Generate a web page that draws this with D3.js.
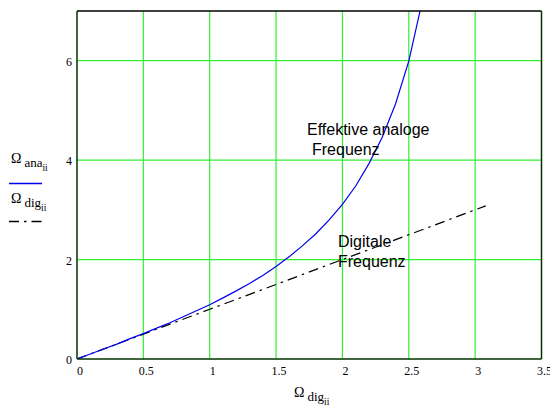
<!DOCTYPE html>
<html><head><meta charset="utf-8">
<script src="https://cdn.jsdelivr.net/npm/d3@7"></script>
<style>body{margin:0;background:#fff}svg{display:block}</style>
</head><body>
<svg id="c" width="550" height="406"></svg>
<script>
const xTicks = [0, 0.5, 1, 1.5, 2, 2.5, 3, 3.5];
const xTickLabels = ["0", "0.5", "1", "1.5", "2", "2.5", "3", "3.5"];
const yTicks = [0, 2, 4, 6];
const yTickLabels = ["0", "2", "4", "6"];
const anaX = [0,0.1,0.2,0.3,0.4,0.5,0.6,0.7,0.8,0.9,1.0,1.1,1.2,1.3,1.4,1.5,1.6,1.7,1.8,1.9,2.0,2.1,2.2,2.3,2.4,2.5,2.6];
const anaY = [0,0.10,0.20,0.30,0.41,0.51,0.62,0.73,0.85,0.97,1.09,1.23,1.37,1.52,1.68,1.86,2.06,2.28,2.52,2.80,3.11,3.48,3.93,4.46,5.13,5.99,7.18];
const digX = [0, 0.5, 1.0, 1.5, 2.0, 2.5, 3.08];
const digY = [0, 0.5, 1.0, 1.5, 2.0, 2.5, 3.08];

const svg = d3.select("#c");
const L = 77, R = 541.5, T = 11, B = 359;
const x = d3.scaleLinear().domain([0, 3.5]).range([L, R]);
const y = d3.scaleLinear().domain([0, 7]).range([B, T]);

// grid
const g = svg.append("g");
g.selectAll("line.gx").data(xTicks.filter(d => d > 0 && d < 3.5)).enter().append("line")
  .attr("x1", d => x(d)).attr("x2", d => x(d)).attr("y1", T).attr("y2", B)
  .attr("stroke", "#33ee33").attr("stroke-width", 1.2);
g.selectAll("line.gy").data(yTicks.filter(d => d > 0)).enter().append("line")
  .attr("x1", L).attr("x2", R).attr("y1", d => y(d)).attr("y2", d => y(d))
  .attr("stroke", "#33ee33").attr("stroke-width", 1.2);

// clip
svg.append("clipPath").attr("id", "clip").append("rect")
  .attr("x", L).attr("y", T).attr("width", R - L).attr("height", B - T);

const line = d3.line().x(d => x(d[0])).y(d => y(d[1]));
svg.append("path").attr("clip-path", "url(#clip)")
  .datum(digX.map((v, i) => [v, digY[i]]))
  .attr("d", line).attr("fill", "none").attr("stroke", "#000").attr("stroke-width", 1.2)
  .attr("stroke-dasharray", "10,5,2.5,5");
svg.append("path").attr("clip-path", "url(#clip)")
  .datum(anaX.map((v, i) => [v, anaY[i]]))
  .attr("d", line).attr("fill", "none").attr("stroke", "#0000ee").attr("stroke-width", 1.2);

// frame
svg.append("line").attr("x1", L).attr("x2", R).attr("y1", T).attr("y2", T).attr("stroke", "#000").attr("stroke-width", 1.5);
svg.append("line").attr("x1", L).attr("x2", L).attr("y1", T).attr("y2", B).attr("stroke", "#003300").attr("stroke-width", 1.5);
svg.append("line").attr("x1", R).attr("x2", R).attr("y1", T).attr("y2", B).attr("stroke", "#003300").attr("stroke-width", 1.5);
svg.append("line").attr("x1", L).attr("x2", R).attr("y1", B).attr("y2", B).attr("stroke", "#003300").attr("stroke-width", 1.5);

// tick labels
const serif = "'Liberation Serif', 'Times New Roman', serif";
svg.selectAll("text.xt").data(xTicks).enter().append("text")
  .attr("x", d => x(d) + 3).attr("y", 375)
  .attr("text-anchor", "middle").attr("font-family", serif).attr("font-size", 12)
  .text((d, i) => xTickLabels[i]);
svg.selectAll("text.yt").data(yTicks).enter().append("text")
  .attr("x", 72).attr("y", d => y(d) + 5)
  .attr("text-anchor", "end").attr("font-family", serif).attr("font-size", 12)
  .text((d, i) => yTickLabels[i]);

// axis title
function omegaLabel(px, py, sub) {
  const t = svg.append("text").attr("x", px).attr("y", py).attr("font-family", serif);
  t.append("tspan").attr("font-size", 14).text("Ω");
  t.append("tspan").attr("font-size", 13).attr("dx", 3).attr("dy", 4).text(sub);
  t.append("tspan").attr("font-size", 9.5).attr("dy", 4).text("ii");
}
omegaLabel(294, 397, "dig");
omegaLabel(11, 163, "ana");
omegaLabel(11, 203, "dig");

// legend line samples
svg.append("line").attr("x1", 9).attr("x2", 42).attr("y1", 183.5).attr("y2", 183.5)
  .attr("stroke", "#0000ee").attr("stroke-width", 1.5);
svg.append("line").attr("x1", 9).attr("x2", 42).attr("y1", 221.5).attr("y2", 221.5)
  .attr("stroke", "#000").attr("stroke-width", 1.5).attr("stroke-dasharray", "10,5,2.5,5");

// annotations
const sans = "'Liberation Sans', Arial, sans-serif";
function note(px, py, lines, dxs) {
  lines.forEach((s, i) => {
    svg.append("text").attr("x", px + dxs[i]).attr("y", py + i * 20)
      .attr("font-family", sans).attr("font-size", 16).attr("fill", "#000").text(s);
  });
}
note(307, 135, ["Effektive analoge", "Frequenz"], [0, 5]);
note(338, 247, ["Digitale", "Frequenz"], [0, 0]);
</script>
</body></html>
